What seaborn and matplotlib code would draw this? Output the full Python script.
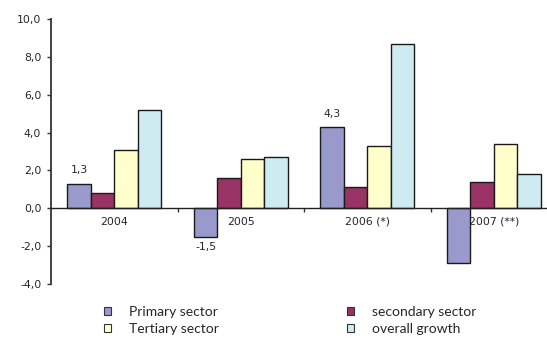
import matplotlib
matplotlib.use("Agg")
import matplotlib.pyplot as plt
import seaborn as sns
import pandas as pd
from matplotlib.patches import Patch
from matplotlib.ticker import FixedLocator, FuncFormatter

years = ["2004", "2005", "2006 (*)", "2007 (**)"]
sectors = ["Primary sector", "secondary sector", "Tertiary sector", "overall growth"]
primary = [1.3, -1.5, 4.3, -2.9]
secondary = [0.8, 1.6, 1.1, 1.4]
tertiary = [3.1, 2.6, 3.3, 3.4]
overall = [5.2, 2.7, 8.7, 1.8]
value_labels = {(0, "Primary sector"): "1,3", (1, "Primary sector"): "-1,5", (2, "Primary sector"): "4,3"}
colors = ["#9999cc", "#993366", "#ffffcc", "#cfebf2"]

rows = []
for name, vals in zip(sectors, [primary, secondary, tertiary, overall]):
    for y, v in zip(years, vals):
        rows.append({"year": y, "sector": name, "value": v})
df = pd.DataFrame(rows)

sns.set_style("white")
plt.rcParams["font.family"] = ["DejaVu Sans"]

fig = plt.figure(figsize=(5.47, 3.38), dpi=100)
ax = fig.add_axes([51 / 547, 1 - 284 / 338, 506 / 547, 265 / 338])

sns.barplot(data=df, x="year", y="value", hue="sector", hue_order=sectors,
            palette=colors, edgecolor="#1a1a1a", linewidth=1.0, width=0.74,
            saturation=1, legend=False, ax=ax)

ax.set_xlim(-0.5, 3.5)
ax.set_ylim(-4, 10)
ax.set_xlabel("")
ax.set_ylabel("")

for s in ["top", "right"]:
    ax.spines[s].set_visible(False)
ax.spines["bottom"].set_position(("data", 0))
ax.spines["left"].set_color("#333333")
ax.spines["bottom"].set_color("#222222")
ax.spines["left"].set_linewidth(1.3)
ax.spines["bottom"].set_linewidth(1.0)

ax.yaxis.set_major_locator(FixedLocator([-4, -2, 0, 2, 4, 6, 8, 10]))
ax.yaxis.set_major_formatter(FuncFormatter(lambda v, p: f"{v:.1f}".replace(".", ",")))
ax.tick_params(axis="y", which="major", direction="out", length=3, width=1,
               color="#333333", labelsize=7.8, pad=4, left=True)
ax.tick_params(axis="x", which="major", length=0, labelsize=7.8, pad=6)
ax.xaxis.set_minor_locator(FixedLocator([0.5, 1.5, 2.5]))
ax.tick_params(axis="x", which="minor", direction="out", length=3, width=1,
               color="#333333", bottom=True)

# value labels for selected primary-sector bars
cont = ax.containers[0]
for i, bar in enumerate(cont):
    key = (i, "Primary sector")
    if key in value_labels:
        v = primary[i]
        x = bar.get_x() + bar.get_width() / 2
        off = 0.7 if v >= 0 else -0.55
        ax.text(x, v + off, value_labels[key], ha="center", va="center", fontsize=7.8)

handles = [Patch(facecolor=c, edgecolor="#333333", linewidth=0.8) for c in colors]
order = [0, 2, 1, 3]
fig.legend([handles[i] for i in order], [sectors[i] for i in order],
           loc="upper left", bbox_to_anchor=(104 / 547, 1 - 306 / 338), ncol=2,
           frameon=False, handlelength=0.5, handleheight=0.5,
           handletextpad=1.3, columnspacing=9.2, labelspacing=0.35,
           borderaxespad=0, borderpad=0, prop={"family": "Lato", "size": 10})

fig.savefig("out.png", dpi=100)
